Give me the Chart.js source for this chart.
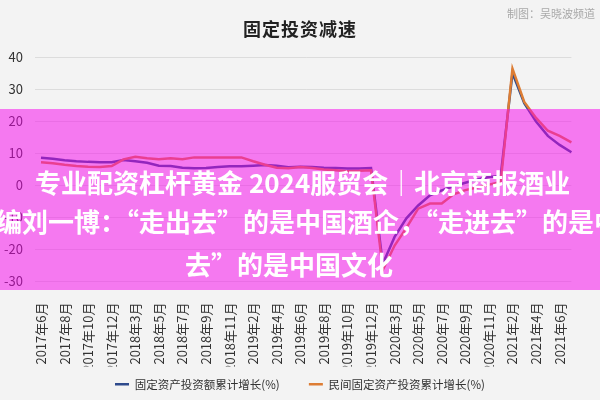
<!DOCTYPE html>
<html lang="zh-CN">
<head>
<meta charset="utf-8">
<script src="https://cdn.jsdelivr.net/npm/chart.js@4.4.1/dist/chart.umd.min.js"></script>
<style>
    html, body { margin: 0; padding: 0; background: #f3f3f3; }
    #wrap { position: relative; width: 600px; height: 400px; overflow: hidden; background: #f3f3f3; }
    #wrap canvas { position: absolute; left: 0; top: 0; }
    .chart-title { position: absolute; left: 0; width: 600px; top: 15px; line-height: 20px; text-align: center;
        font: bold 18px "Noto Sans CJK SC", sans-serif; color: #222; letter-spacing: 1px; }
    .credit { position: absolute; right: 5px; top: 5px; line-height: 14px;
        font: 11px "Noto Sans CJK SC", sans-serif; color: #a8a8a8; }
    .band { position: absolute; left: 0; top: 109px; width: 600px; height: 181px; overflow: hidden;
        background: rgba(248, 0, 238, 0.5); }
    .band div { position: absolute; white-space: nowrap; line-height: 26px;
        font: bold 26px "Noto Sans CJK SC", sans-serif; color: #fff; }
</style>
</head>
<body>
<div id="wrap">
    <canvas id="chart" width="600" height="400"></canvas>
    <div class="chart-title">固定投资减速</div>
    <div class="credit">制图：吴晓波频道</div>
    <div class="band">
        <div style="left:35px; top:54px;">专业配资杠杆黄金 2024服贸会｜北京商报酒业</div>
        <div style="left:-4px; top:93px;">编刘一博：“走出去”的是中国酒企，“走进去”的是中</div>
        <div style="left:185px; top:136px;">去”的是中国文化</div>
    </div>
</div>
<script>
// months 2017-06 .. 2021-07, Jan merged into Feb
const months = [
    '2017年6月', '2017年7月', '2017年8月', '2017年9月', '2017年10月', '2017年11月', '2017年12月',
    '2018年2月', '2018年3月', '2018年4月', '2018年5月', '2018年6月', '2018年7月', '2018年8月', '2018年9月', '2018年10月', '2018年11月', '2018年12月',
    '2019年2月', '2019年3月', '2019年4月', '2019年5月', '2019年6月', '2019年7月', '2019年8月', '2019年9月', '2019年10月', '2019年11月', '2019年12月',
    '2020年2月', '2020年3月', '2020年4月', '2020年5月', '2020年6月', '2020年7月', '2020年8月', '2020年9月', '2020年10月', '2020年11月', '2020年12月',
    '2021年2月', '2021年3月', '2021年4月', '2021年5月', '2021年6月', '2021年7月'
];

const fixedInvest = [
    8.6, 8.3, 7.8, 7.5, 7.3, 7.2, 7.2,
    7.9, 7.5, 7.0, 6.1, 6.0, 5.5, 5.3, 5.4, 5.7, 5.9, 5.9,
    6.1, 6.3, 6.1, 5.6, 5.8, 5.7, 5.5, 5.4, 5.2, 5.2, 5.4,
    -24.5, -16.1, -10.3, -6.3, -3.1, -1.6, -0.3, 0.8, 1.8, 2.6, 2.9,
    35.0, 25.6, 19.9, 15.4, 12.6, 10.3
];

const privateInvest = [
    7.2, 6.9, 6.4, 6.0, 5.8, 5.7, 6.0,
    8.1, 8.9, 8.4, 8.1, 8.4, 8.1, 8.7, 8.7, 8.7, 8.7, 8.7,
    7.5, 6.4, 5.5, 5.3, 5.7, 5.4, 4.9, 4.7, 4.4, 4.5, 4.7,
    -26.4, -18.8, -13.3, -7.3, -5.7, -5.7, -2.8, -1.5, -0.7, 0.2, 1.0,
    36.4, 26.0, 21.0, 17.0, 15.4, 13.4
];

const seriesNames = ['固定资产投资额累计增长(%)', '民间固定资产投资累计增长(%)'];
const seriesColors = ['#2e4a8c', '#dd7d34'];
const yTicks = { min: -30, max: 40, step: 10 };

Chart.defaults.font.family = '"Noto Sans CJK SC", "Noto Sans", sans-serif';
Chart.defaults.color = '#333';

new Chart(document.getElementById('chart'), {
    type: 'line',
    data: {
        labels: months,
        datasets: [
            {
                label: seriesNames[0],
                data: fixedInvest,
                borderColor: seriesColors[0],
                backgroundColor: seriesColors[0],
                borderWidth: 2.5,
                pointRadius: 0,
                tension: 0,
                order: 2
            },
            {
                label: seriesNames[1],
                data: privateInvest,
                borderColor: seriesColors[1],
                backgroundColor: seriesColors[1],
                borderWidth: 2.5,
                pointRadius: 0,
                tension: 0,
                order: 1
            }
        ]
    },
    options: {
        responsive: false,
        animation: false,
        layout: { padding: { top: 57, left: 0, right: 0, bottom: 0 } },
        plugins: {
            title: { display: false },
            tooltip: { enabled: false },
            legend: {
                position: 'bottom',
                labels: {
                    usePointStyle: true,
                    pointStyle: 'line',
                    pointStyleWidth: 14,
                    boxHeight: 11,
                    padding: 12,
                    font: { size: 11.5 },
                    color: '#333',
                    sort: (a, b) => a.datasetIndex - b.datasetIndex,
                    generateLabels: (chart) => {
                        const items = Chart.defaults.plugins.legend.labels.generateLabels(chart);
                        // wider gap after the first item without making the legend taller
                        items.forEach(it => { if (it.datasetIndex === 0) it.text += '\u2003\u2002'; });
                        return items;
                    }
                }
            }
        },
        scales: {
            x: {
                grid: { display: false },
                border: { display: false },
                ticks: {
                    autoSkip: false,
                    minRotation: 90,
                    maxRotation: 90,
                    padding: 13,
                    font: { size: 13 },
                    color: '#333',
                    callback: function (val, i) {
                        return (i % 2 === 0 && i < 45) ? this.getLabelForValue(val) : '';
                    }
                },
                afterFit: (axis) => { axis.height = 85; }
            },
            y: {
                min: yTicks.min,
                max: yTicks.max,
                grid: { color: '#dcdcdc', tickLength: 6, tickColor: '#dcdcdc' },
                border: { display: false },
                ticks: {
                    stepSize: yTicks.step,
                    padding: 12,
                    font: { size: 13 },
                    color: '#333'
                },
                afterFit: (axis) => { axis.width = 41; }
            },
            // empty right axis, only keeps the plot 13px off the right edge
            yRight: {
                position: 'right',
                grid: { display: false },
                border: { display: false },
                ticks: { display: false },
                afterFit: (axis) => { axis.width = 13; }
            }
        }
    }
});
</script>
</body>
</html>
